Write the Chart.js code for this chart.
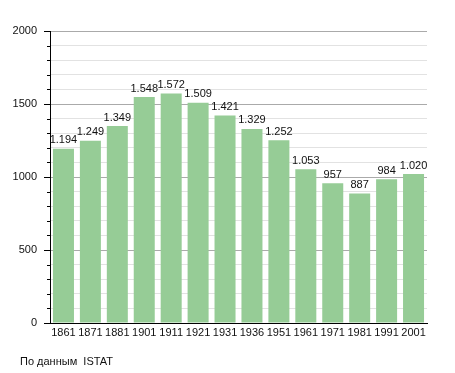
<!DOCTYPE html>
<html>
<head>
<meta charset="utf-8">
<script src="https://cdn.jsdelivr.net/npm/chart.js@4"></script>
<style>
  body { margin: 0; background: #fff; }
  #wrap { position: relative; width: 455px; height: 373px; }
  #note { position: absolute; left: 20px; top: 355px; font: 11px "Liberation Sans", Arial, sans-serif; color: #111; white-space: pre; }
</style>
</head>
<body>
<div id="wrap">
  <canvas id="pop" width="455" height="373"></canvas>
  <div id="note">По данным  ISTAT</div>
</div>
<script>
var years = ['1861','1871','1881','1901','1911','1921','1931','1936','1951','1961','1971','1981','1991','2001'];
var population = [1194, 1249, 1349, 1548, 1572, 1509, 1421, 1329, 1252, 1053, 957, 887, 984, 1020];
var yMax = 2000;

function fmt(v) {
    var s = String(v);
    return s.length > 3 ? s.slice(0, s.length - 3) + '.' + s.slice(-3) : s;
}

// value labels over the bars + small minor ticks on the y axis
var extras = {
    id: 'extras',
    afterDatasetsDraw: function(chart) {
        var ctx = chart.ctx;
        var meta = chart.getDatasetMeta(0);
        ctx.save();
        ctx.font = '11px "Liberation Sans", Arial, sans-serif';
        ctx.fillStyle = '#111';
        ctx.textAlign = 'center';
        ctx.textBaseline = 'bottom';
        meta.data.forEach(function(bar, i) {
            ctx.fillText(fmt(population[i]), bar.x, bar.y - 3);
        });
        var y = chart.scales.y;
        ctx.strokeStyle = '#000';
        ctx.lineWidth = 1;
        for (var v = 100; v < yMax; v += 100) {
            if (v % 500 === 0) continue;
            var py = Math.round(y.getPixelForValue(v)) + 0.5;
            ctx.beginPath();
            ctx.moveTo(y.right - 3, py);
            ctx.lineTo(y.right, py);
            ctx.stroke();
        }
        ctx.restore();
    }
};

var chart = new Chart(document.getElementById('pop'), {
    type: 'bar',
    data: {
        labels: years,
        datasets: [{
            data: population,
            backgroundColor: '#96cc96',
            borderWidth: 0,
            categoryPercentage: 1,
            barPercentage: 0.78
        }]
    },
    options: {
        responsive: false,
        animation: false,
        layout: { padding: { left: 0, right: 28, top: 31, bottom: 0 } },
        plugins: {
            legend: { display: false },
            tooltip: { enabled: false }
        },
        scales: {
            x: {
                grid: { display: false, drawTicks: false },
                border: { display: true, color: '#000', width: 1 },
                ticks: {
                    color: '#111',
                    padding: 3,
                    maxRotation: 0,
                    autoSkip: false,
                    font: { family: '"Liberation Sans", Arial, sans-serif', size: 11 }
                },
                afterFit: function(s) { s.height = 50; }
            },
            y: {
                min: 0,
                max: yMax,
                border: { display: true, color: '#000', width: 1 },
                grid: {
                    color: function(c) { return c.tick.value % 500 === 0 ? '#aaaaaa' : '#e2e2e2'; },
                    tickColor: function(c) { return c.tick.value % 500 === 0 ? '#000' : 'rgba(0,0,0,0)'; },
                    tickLength: 6
                },
                ticks: {
                    stepSize: 100,
                    autoSkip: false,
                    color: '#111',
                    padding: 7,
                    font: { family: '"Liberation Sans", Arial, sans-serif', size: 11 },
                    callback: function(v) { return v % 500 === 0 ? v : ''; }
                },
                afterFit: function(s) { s.width = 50; }
            }
        }
    },
    plugins: [extras]
});
</script>
</body>
</html>
